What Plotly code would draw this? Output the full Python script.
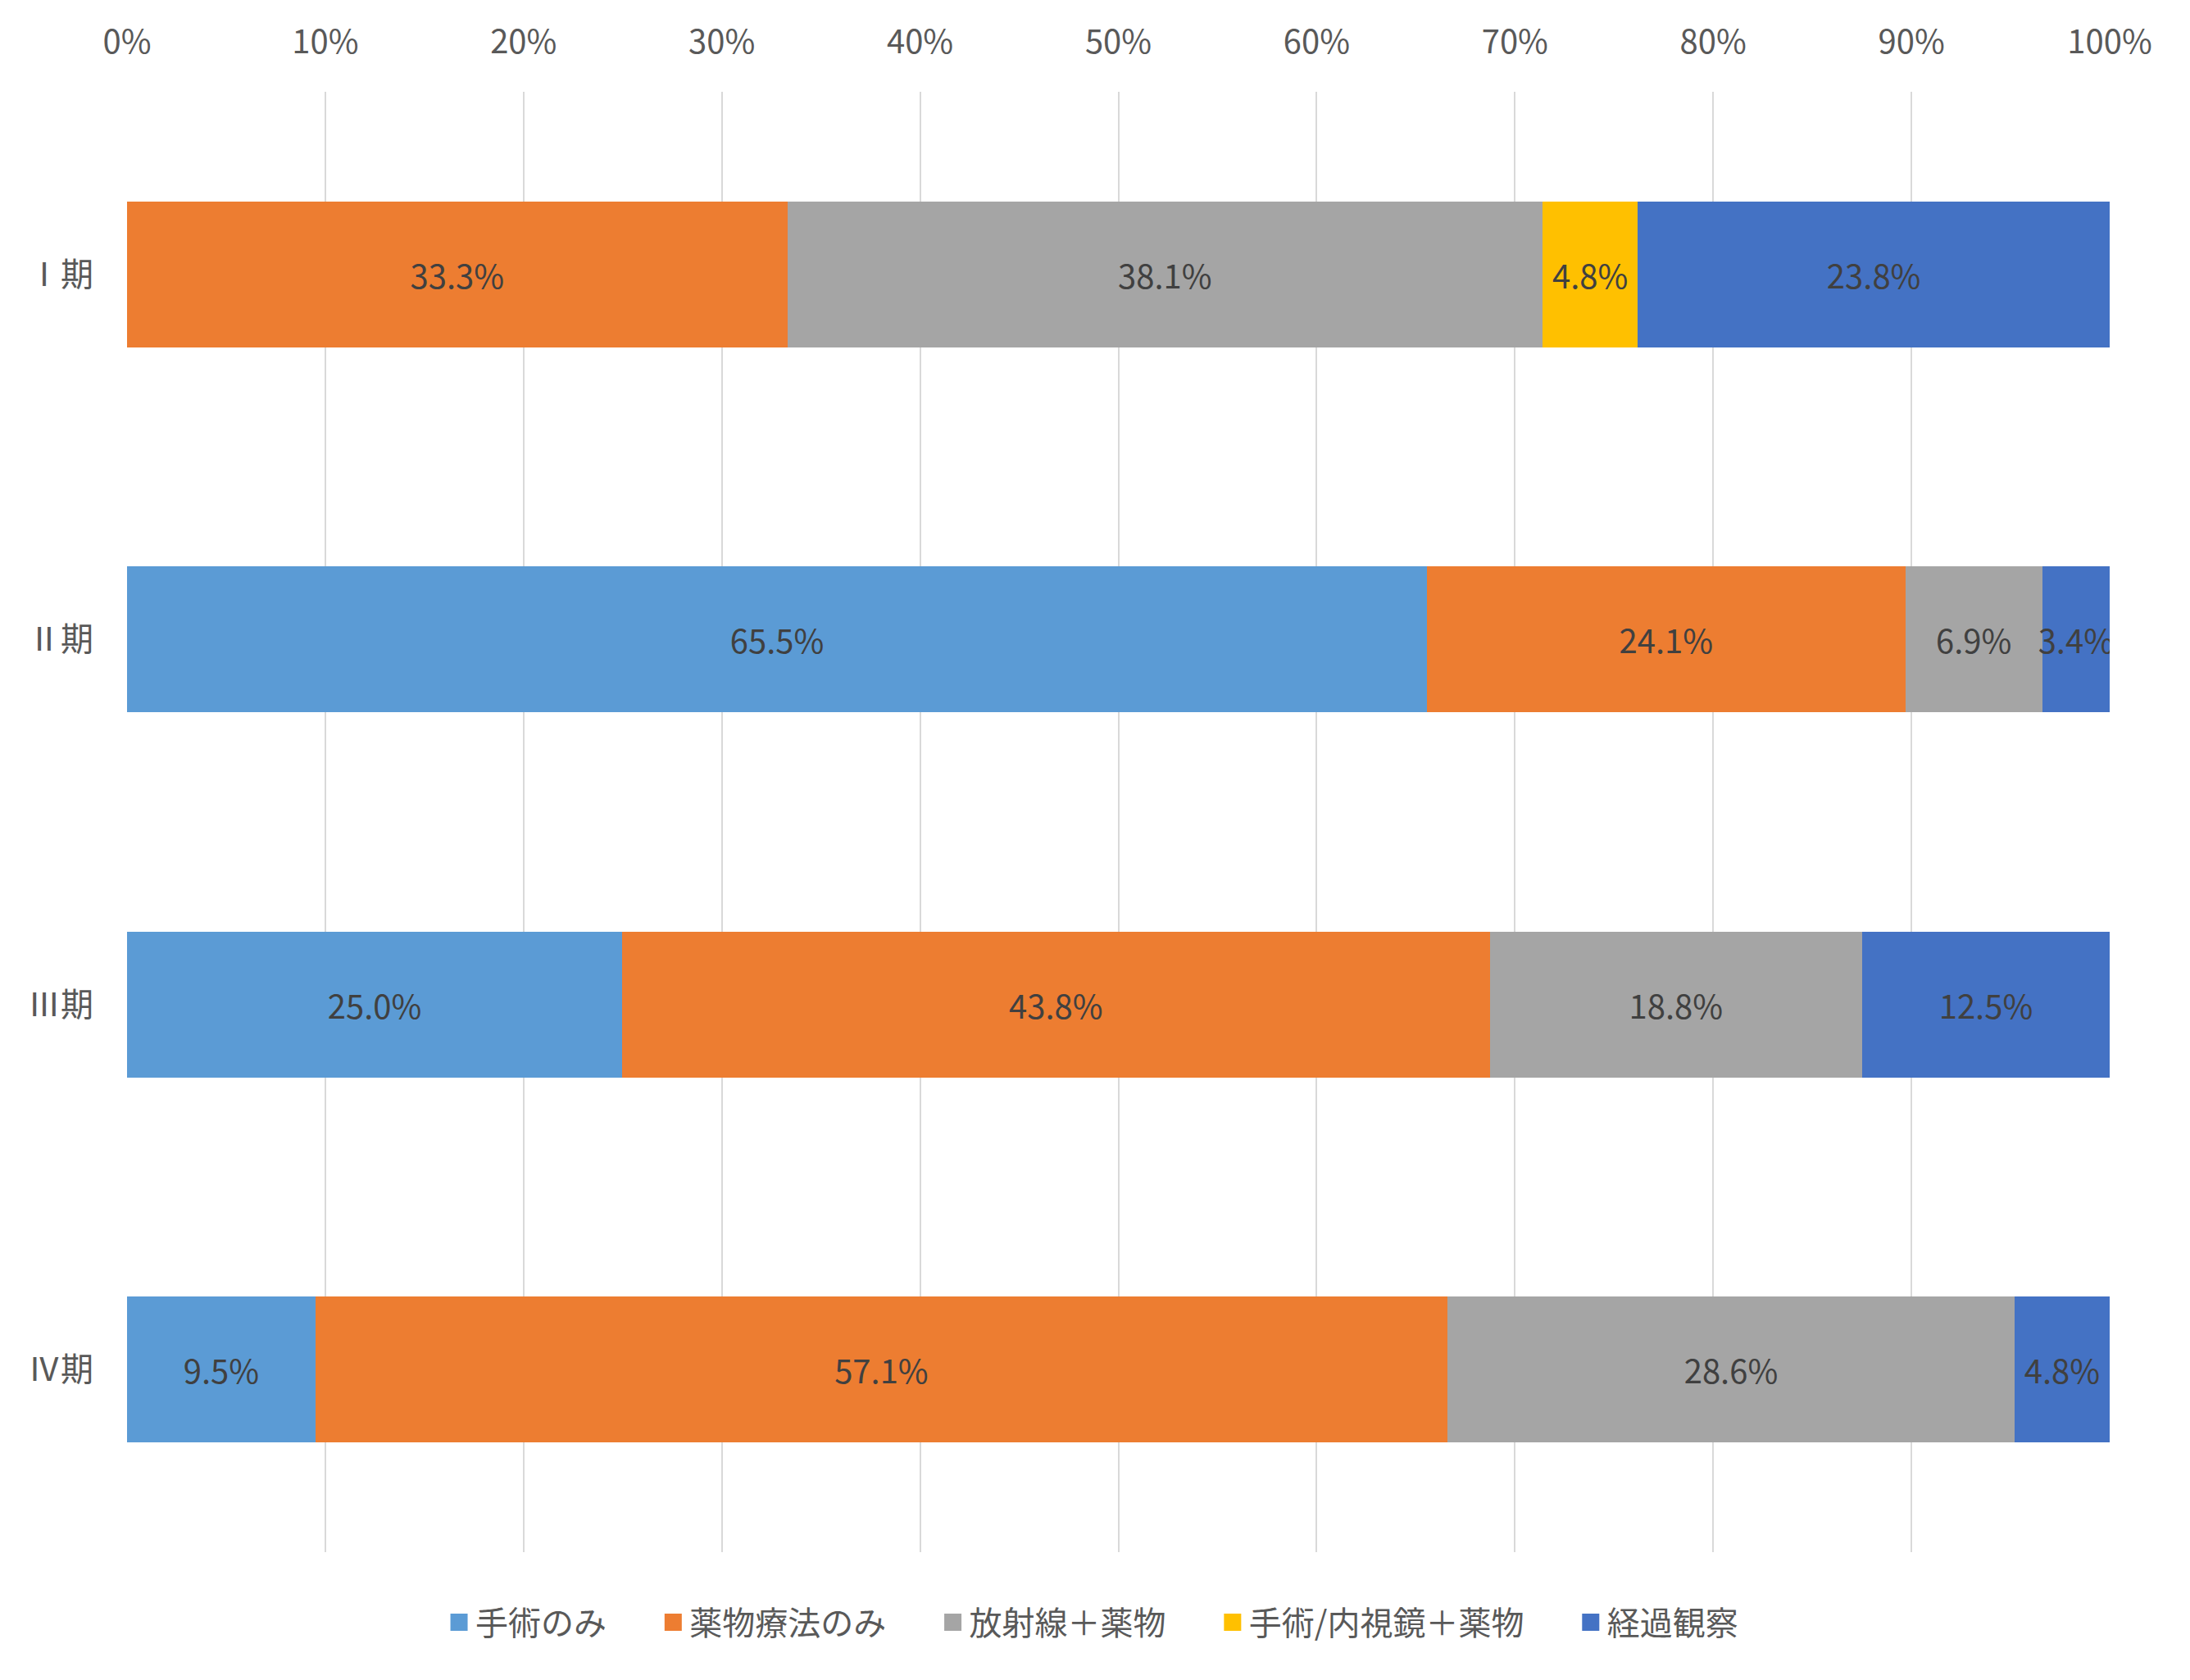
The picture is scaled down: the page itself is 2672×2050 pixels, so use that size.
import plotly.graph_objects as go

# ステージ別の治療内容の割合（％）
stages = ["Ⅰ期", "Ⅱ期", "Ⅲ期", "Ⅳ期"]
treatments = ["手術のみ", "薬物療法のみ", "放射線＋薬物", "手術/内視鏡＋薬物", "経過観察"]

surgery_only = [0.0, 65.5, 25.0, 9.5]
drug_only = [33.3, 24.1, 43.8, 57.1]
radiation_drug = [38.1, 6.9, 18.8, 28.6]
surgery_endo_drug = [4.8, 0.0, 0.0, 0.0]
observation = [23.8, 3.4, 12.5, 4.8]

series = [surgery_only, drug_only, radiation_drug, surgery_endo_drug, observation]
colors = ["#5B9BD5", "#ED7D31", "#A5A5A5", "#FFC000", "#4472C4"]

FONT = "Noto Sans CJK JP"
PAD = "\u00a0" * 6 + "\u200a"  # 凡例の項目間の余白

fig = go.Figure()
for i, (name, vals, col) in enumerate(zip(treatments, series, colors)):
    fig.add_trace(go.Bar(
        y=stages, x=vals, name=name, orientation="h",
        marker=dict(color=col, line=dict(width=0)),
        text=[f"{v:.1f}%" if v > 0 else "" for v in vals],
        textposition="inside", insidetextanchor="middle",
        textangle=0, constraintext="none",
        textfont=dict(family=FONT, size=40, color="#404040"),
        width=0.4, showlegend=False,
    ))
    # 凡例用（大きめの四角マーカー）
    label = name + (PAD if i < len(treatments) - 1 else "")
    fig.add_trace(go.Scatter(
        x=[None], y=[None], mode="markers", name=label,
        marker=dict(symbol="square", size=24, color=col,
                    line=dict(width=5, color=col)),
        showlegend=True, hoverinfo="skip",
    ))

fig.update_layout(
    barmode="stack", barnorm="percent",
    width=2672, height=2050,
    margin=dict(l=147, r=106, t=104, b=164),
    paper_bgcolor="white", plot_bgcolor="white",
    font=dict(family=FONT, size=40, color="#595959"),
    showlegend=True,
    legend=dict(orientation="h", x=0.487, xanchor="center", y=-0.048, yanchor="middle",
                font=dict(family=FONT, size=40, color="#595959"),
                traceorder="normal"),
)
fig.update_xaxes(
    side="top", range=[0, 100], tickvals=list(range(0, 101, 10)),
    ticktext=[f"{v}%" for v in range(0, 101, 10)],
    showgrid=True, gridcolor="#D9D9D9", gridwidth=2,
    zeroline=False, showline=False, ticks="",
    ticklabelstandoff=38,
    tickfont=dict(family=FONT, size=40, color="#595959"),
)
fig.update_yaxes(
    autorange="reversed", showgrid=False, zeroline=False, showline=False,
    ticks="", ticklabelstandoff=40,
    tickfont=dict(family=FONT, size=40, color="#595959"),
)

fig.write_html("out.html")
